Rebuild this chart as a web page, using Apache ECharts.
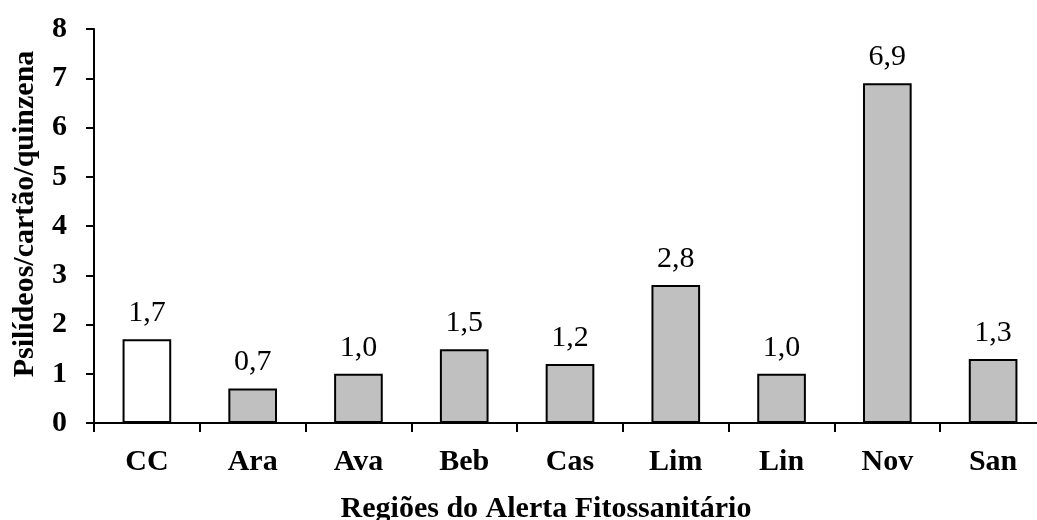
<!DOCTYPE html>
<html>
<head>
<meta charset="utf-8">
<script src="https://cdn.jsdelivr.net/npm/echarts@6/dist/echarts.min.js"></script>
<style>
  html, body { margin: 0; padding: 0; background: #fff; }
  #chart { width: 1037px; height: 520px; }
</style>
</head>
<body>
<div id="chart"></div>
<script>
// Regions of the phytosanitary alert and mean psyllids per card per fortnight
const categories = ['CC', 'Ara', 'Ava', 'Beb', 'Cas', 'Lim', 'Lin', 'Nov', 'San'];
const values = [1.7, 0.7, 1.0, 1.5, 1.2, 2.8, 1.0, 6.9, 1.3];
const fills = ['#ffffff', '#c0c0c0', '#c0c0c0', '#c0c0c0', '#c0c0c0', '#c0c0c0', '#c0c0c0', '#c0c0c0', '#c0c0c0'];
const yTicks = [0, 1, 2, 3, 4, 5, 6, 7, 8];

const serif = '"Times New Roman", "Liberation Serif", "DejaVu Serif", serif';

const chart = echarts.init(document.getElementById('chart'), null, { renderer: 'canvas' });

chart.setOption({
  animation: false,
  backgroundColor: '#ffffff',
  grid: {
    left: 94, right: -9, top: 29, bottom: 97,
    containLabel: false,
    outerBoundsMode: 'none'
  },
  xAxis: {
    type: 'category',
    data: categories,
    name: 'Regiões do Alerta Fitossanitário',
    nameLocation: 'middle',
    nameGap: 71,
    nameTextStyle: {
      fontFamily: serif, fontWeight: 'bold', fontSize: 30, color: '#000',
      padding: [0, 48, 0, 0]
    },
    axisLine: { lineStyle: { color: '#000', width: 2 } },
    axisTick: { show: true, length: 9, lineStyle: { color: '#000', width: 2 } },
    axisLabel: {
      margin: 24,
      fontFamily: serif, fontWeight: 'bold', fontSize: 30, color: '#000'
    }
  },
  yAxis: {
    type: 'value',
    min: yTicks[0],
    max: yTicks[yTicks.length - 1],
    interval: 1,
    name: 'Psilídeos/cartão/quinzena',
    nameLocation: 'middle',
    nameRotate: 90,
    nameGap: 54,
    nameTextStyle: {
      fontFamily: serif, fontWeight: 'bold', fontSize: 30, color: '#000',
      padding: [0, 0, 0, 24]
    },
    splitLine: { show: false },
    axisLine: { show: true, lineStyle: { color: '#000', width: 2 } },
    axisTick: { show: true, length: 8, lineStyle: { color: '#000', width: 2 } },
    axisLabel: {
      margin: 27,
      fontFamily: serif, fontWeight: 'bold', fontSize: 30, color: '#000'
    }
  },
  series: [{
    type: 'bar',
    barWidth: '46%',
    data: values.map((v, i) => ({
      value: v,
      itemStyle: { color: fills[i], borderColor: '#000', borderWidth: 2 }
    })),
    label: {
      show: true,
      position: 'top',
      distance: 11,
      fontFamily: serif, fontSize: 30, color: '#000',
      formatter: p => p.value.toFixed(1).replace('.', ',')
    }
  }]
});
</script>
</body>
</html>
